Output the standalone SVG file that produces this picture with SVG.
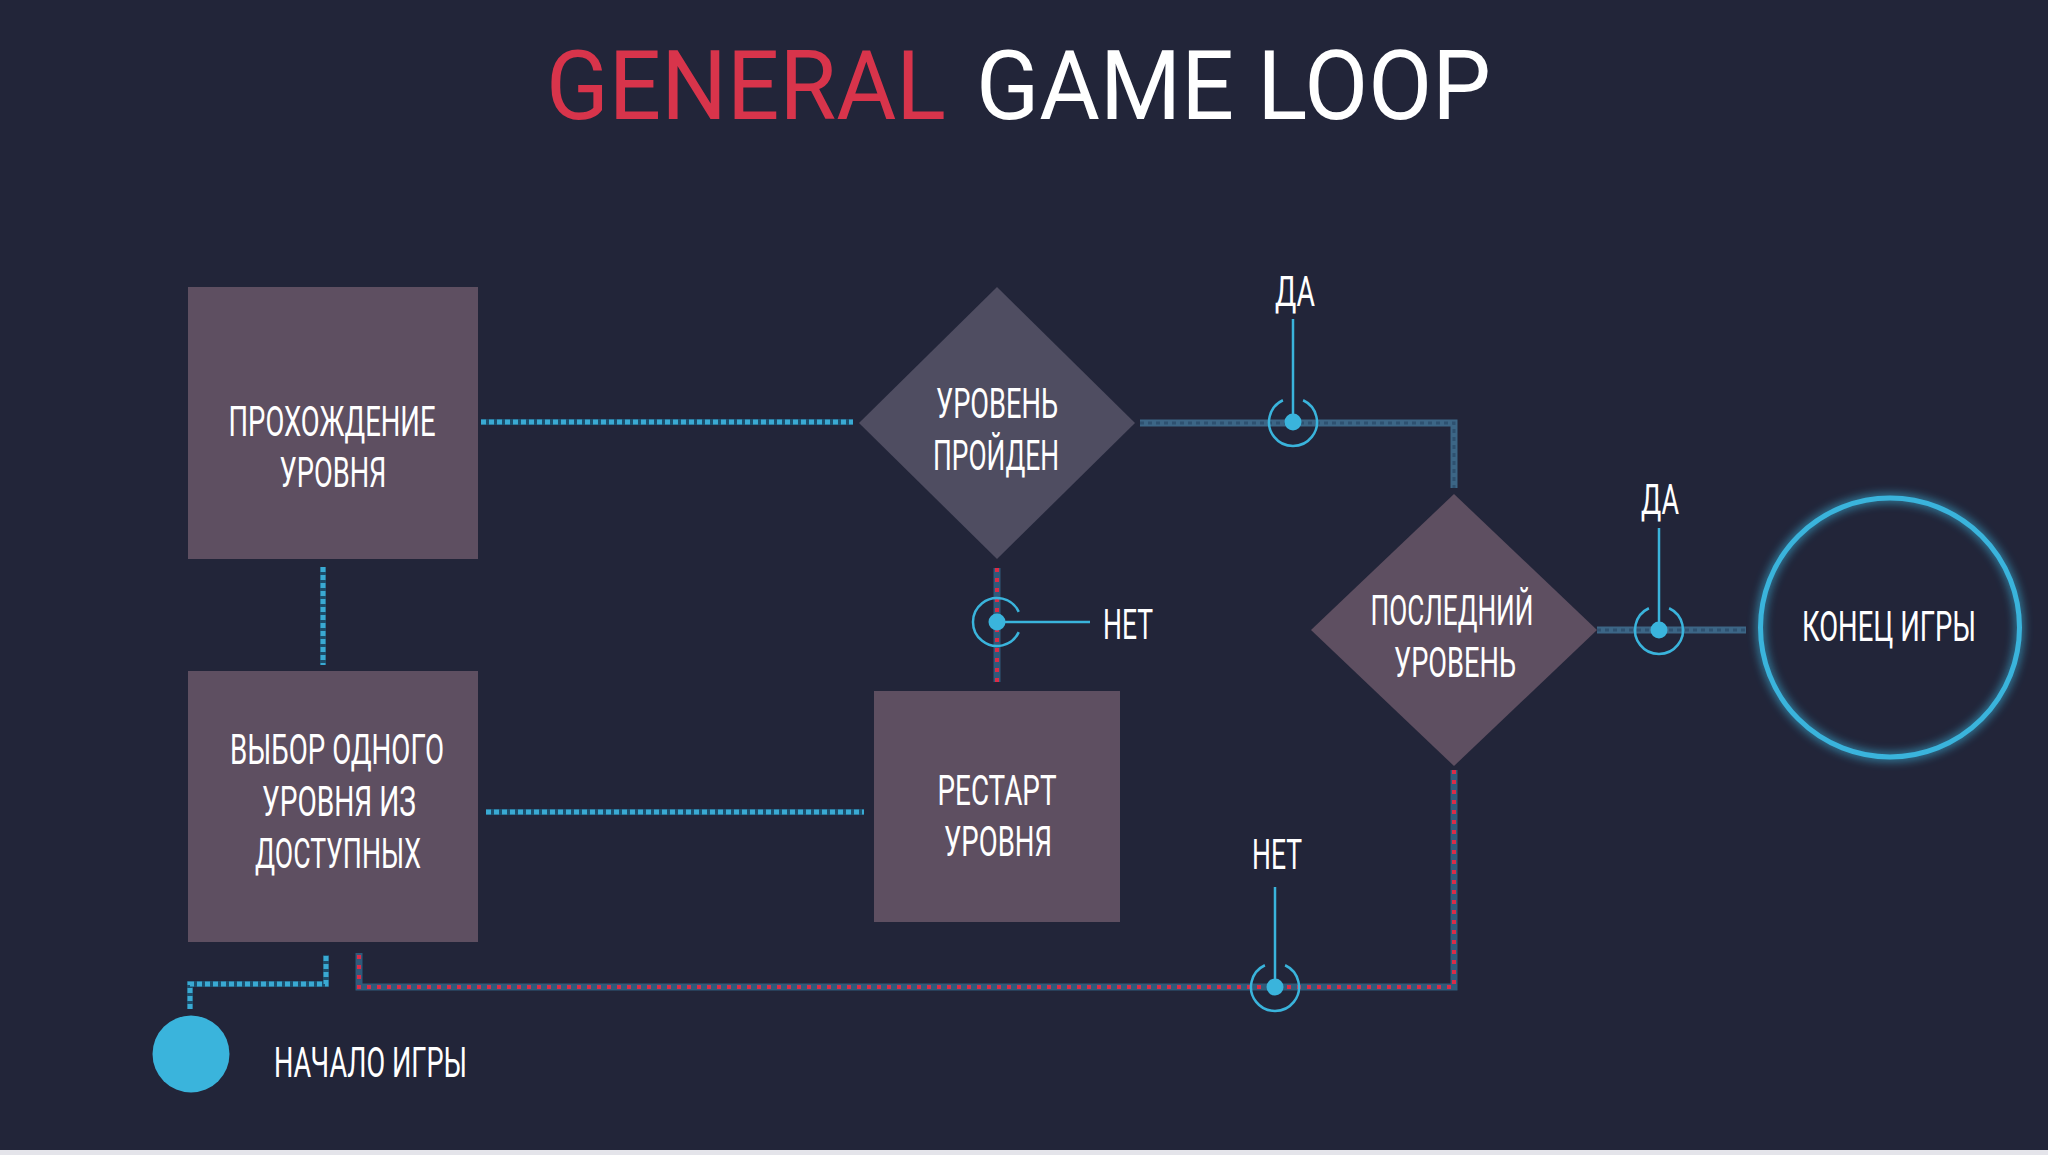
<svg xmlns="http://www.w3.org/2000/svg" width="2048" height="1155" viewBox="0 0 2048 1155">
<defs>
<style>
.bg{fill:#222539}
.box{fill:#5E4F61}
.dia1{fill:#4F4D61}
.lbl{font-family:Roboto,"Liberation Sans",sans-serif;font-weight:400;font-size:42px;fill:#FFFFFF;text-anchor:middle}
.lbls{font-family:Roboto,"Liberation Sans",sans-serif;font-weight:400;font-size:42px;fill:#FFFFFF}
.title{font-family:Roboto,"Liberation Sans",sans-serif;font-weight:400;font-size:96px}
.cb-base{fill:none;stroke:#1D4D6A;stroke-width:6}
.cb-dash{fill:none;stroke:#3AAAD3;stroke-width:5;stroke-dasharray:5 3}
.cd-base{fill:none;stroke:#3C6686;stroke-width:7}
.cd-dash{fill:none;stroke:#2E5170;stroke-width:3;stroke-dasharray:4 4}
.cr-base{fill:none;stroke:#2F5A7A;stroke-width:7}
.cr-dash{fill:none;stroke:#DA2C48;stroke-width:4;stroke-dasharray:4 6}
.ring{fill:none;stroke:#3AB4DC;stroke-width:2.5}
.tick{fill:none;stroke:#3AB4DC;stroke-width:2.5}
.dot{fill:#3AB4DC}
</style>
<filter id="glow" x="-20%" y="-20%" width="140%" height="140%">
<feGaussianBlur stdDeviation="5"/>
</filter>
</defs>
<rect class="bg" x="0" y="0" width="2048" height="1155"/>
<rect x="0" y="1150" width="2048" height="5" fill="#E4E4EA"/>

<g id="title">
<text class="title" x="546" y="119" fill="#D8344B" textLength="400" lengthAdjust="spacingAndGlyphs">GENERAL</text>
<text class="title" x="976" y="119" fill="#FFFFFF" textLength="515" lengthAdjust="spacingAndGlyphs">GAME LOOP</text>
</g>

<g id="connectors">
<path class="cb-base" d="M481 422 H853"/><path class="cb-dash" d="M481 422 H853"/>
<path class="cb-base" d="M323 567 V665"/><path class="cb-dash" d="M323 567 V665"/>
<path class="cb-base" d="M486 812 H864"/><path class="cb-dash" d="M486 812 H864"/>
<path class="cb-base" d="M190 1009 V984 H326 V955"/><path class="cb-dash" d="M190 1009 V984 H326 V955"/>
<path class="cd-base" d="M1140 423 H1454 V488"/><path class="cd-dash" d="M1140 423 H1454 V488"/>
<path class="cd-base" d="M1597 630 H1746"/><path class="cd-dash" d="M1597 630 H1746"/>
<path class="cr-base" d="M997 568 V682"/><path class="cr-dash" d="M997 568 V682"/>
<path class="cr-base" d="M1454 770 V987 H359 V953"/><path class="cr-dash" d="M1454 770 V987 H359 V953"/>
</g>

<g id="node-prohozhdenie">
<rect class="box" x="188" y="287" width="290" height="272"/>
<text class="lbl" x="332" y="436" textLength="207" lengthAdjust="spacingAndGlyphs">ПРОХОЖДЕНИЕ</text>
<text class="lbl" x="333" y="487" textLength="107" lengthAdjust="spacingAndGlyphs">УРОВНЯ</text>
</g>

<g id="node-vybor">
<rect class="box" x="188" y="671" width="290" height="271"/>
<text class="lbl" x="337" y="764" textLength="214" lengthAdjust="spacingAndGlyphs">ВЫБОР ОДНОГО</text>
<text class="lbl" x="339" y="816" textLength="154" lengthAdjust="spacingAndGlyphs">УРОВНЯ ИЗ</text>
<text class="lbl" x="338" y="868" textLength="166" lengthAdjust="spacingAndGlyphs">ДОСТУПНЫХ</text>
</g>

<g id="node-uroven-proyden">
<polygon class="dia1" points="997,287 1135,423 997,559 859,423"/>
<text class="lbl" x="997" y="418" textLength="122" lengthAdjust="spacingAndGlyphs">УРОВЕНЬ</text>
<text class="lbl" x="996" y="470" textLength="126" lengthAdjust="spacingAndGlyphs">ПРОЙДЕН</text>
</g>

<g id="node-restart">
<rect class="box" x="874" y="691" width="246" height="231"/>
<text class="lbl" x="997" y="805" textLength="119" lengthAdjust="spacingAndGlyphs">РЕСТАРТ</text>
<text class="lbl" x="998" y="856" textLength="108" lengthAdjust="spacingAndGlyphs">УРОВНЯ</text>
</g>

<g id="node-posledniy">
<polygon class="box" points="1454,494 1597,630 1454,766 1311,630"/>
<text class="lbl" x="1452" y="625" textLength="163" lengthAdjust="spacingAndGlyphs">ПОСЛЕДНИЙ</text>
<text class="lbl" x="1455" y="677" textLength="122" lengthAdjust="spacingAndGlyphs">УРОВЕНЬ</text>
</g>

<g id="node-konec">
<circle cx="1890" cy="627.5" r="129.5" fill="none" stroke="#3AB4DC" stroke-width="8" opacity="0.7" filter="url(#glow)"/>
<circle cx="1890" cy="627.5" r="129.5" fill="none" stroke="#3AB4DC" stroke-width="5"/>
<text class="lbl" x="1889" y="641" textLength="174" lengthAdjust="spacingAndGlyphs">КОНЕЦ ИГРЫ</text>
</g>

<g id="node-nachalo">
<circle class="dot" cx="191" cy="1054" r="38.5"/>
<text class="lbls" x="274" y="1077" textLength="193" lengthAdjust="spacingAndGlyphs">НАЧАЛО ИГРЫ</text>
</g>

<g id="label-da1">
<path class="ring" d="M1303.1 400.25 A24 24 0 1 1 1282.9 400.25"/>
<line class="tick" x1="1293" y1="319" x2="1293" y2="422"/>
<circle class="dot" cx="1293" cy="422" r="8.5"/>
<text class="lbl" x="1295" y="306" textLength="40" lengthAdjust="spacingAndGlyphs">ДА</text>
</g>

<g id="label-net1">
<path class="ring" d="M1018.75 632.1 A24 24 0 1 1 1018.75 611.9"/>
<line class="tick" x1="997" y1="622" x2="1090" y2="622"/>
<circle class="dot" cx="997" cy="622" r="8.5"/>
<text class="lbls" x="1103" y="639" textLength="50" lengthAdjust="spacingAndGlyphs">НЕТ</text>
</g>

<g id="label-da2">
<path class="ring" d="M1669.1 608.25 A24 24 0 1 1 1648.9 608.25"/>
<line class="tick" x1="1659" y1="528" x2="1659" y2="630"/>
<circle class="dot" cx="1659" cy="630" r="8.5"/>
<text class="lbl" x="1660" y="514" textLength="38" lengthAdjust="spacingAndGlyphs">ДА</text>
</g>

<g id="label-net2">
<path class="ring" d="M1285.1 965.25 A24 24 0 1 1 1264.9 965.25"/>
<line class="tick" x1="1275" y1="887" x2="1275" y2="987"/>
<circle class="dot" cx="1275" cy="987" r="8.5"/>
<text class="lbl" x="1277" y="869" textLength="50" lengthAdjust="spacingAndGlyphs">НЕТ</text>
</g>
</svg>
